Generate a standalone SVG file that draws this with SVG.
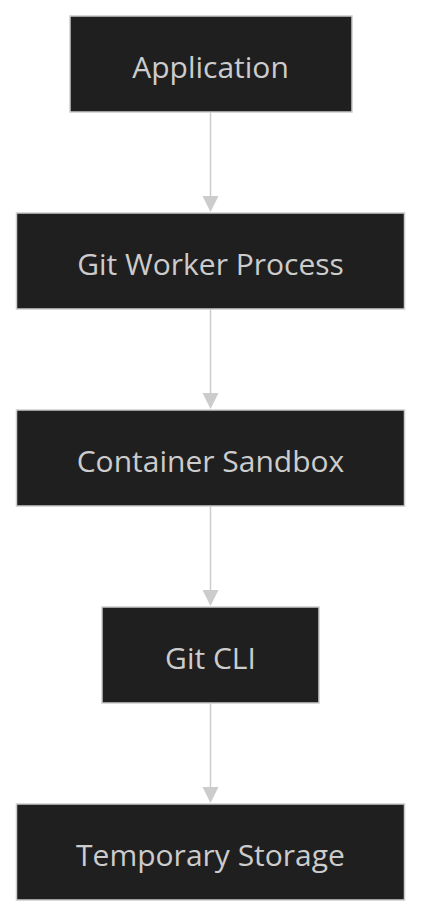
<svg xmlns="http://www.w3.org/2000/svg" width="422" height="917" viewBox="0 0 422 917">
<defs>
<style>
.node rect{fill:#1f1f1f;stroke:#cccccc;stroke-width:1.5}
.node text{fill:#cccccc;font-family:"Open Sans","DejaVu Sans",sans-serif;font-size:30px;font-weight:500;text-anchor:middle;dominant-baseline:central}
.edge{stroke:#cccccc;stroke-width:1.5;fill:none}
.head{fill:#cccccc}
</style>
</defs>
<rect width="422" height="917" fill="#ffffff"/>
<g id="connectors">
<path class="edge" d="M210.5,112 L210.5,196"/>
<path class="head" d="M202.5,196 L218.5,196 L210.5,212 z"/>
<path class="edge" d="M210.5,309 L210.5,393"/>
<path class="head" d="M202.5,393 L218.5,393 L210.5,409 z"/>
<path class="edge" d="M210.5,506 L210.5,590"/>
<path class="head" d="M202.5,590 L218.5,590 L210.5,606 z"/>
<path class="edge" d="M210.5,703 L210.5,787"/>
<path class="head" d="M202.5,787 L218.5,787 L210.5,803 z"/>
</g>
<g id="app" class="node">
<rect x="70" y="16" width="282" height="96"/>
<text x="210.5" y="66">Application</text>
</g>
<g id="worker" class="node">
<rect x="16.5" y="213" width="388" height="96"/>
<text x="210.5" y="263">Git Worker Process</text>
</g>
<g id="sandbox" class="node">
<rect x="16.5" y="410" width="388" height="96"/>
<text x="210.5" y="460">Container Sandbox</text>
</g>
<g id="cli" class="node">
<rect x="102" y="607" width="217" height="96"/>
<text x="210.5" y="657">Git CLI</text>
</g>
<g id="storage" class="node">
<rect x="16.5" y="804" width="388" height="96"/>
<text x="210.5" y="854">Temporary Storage</text>
</g>
</svg>
